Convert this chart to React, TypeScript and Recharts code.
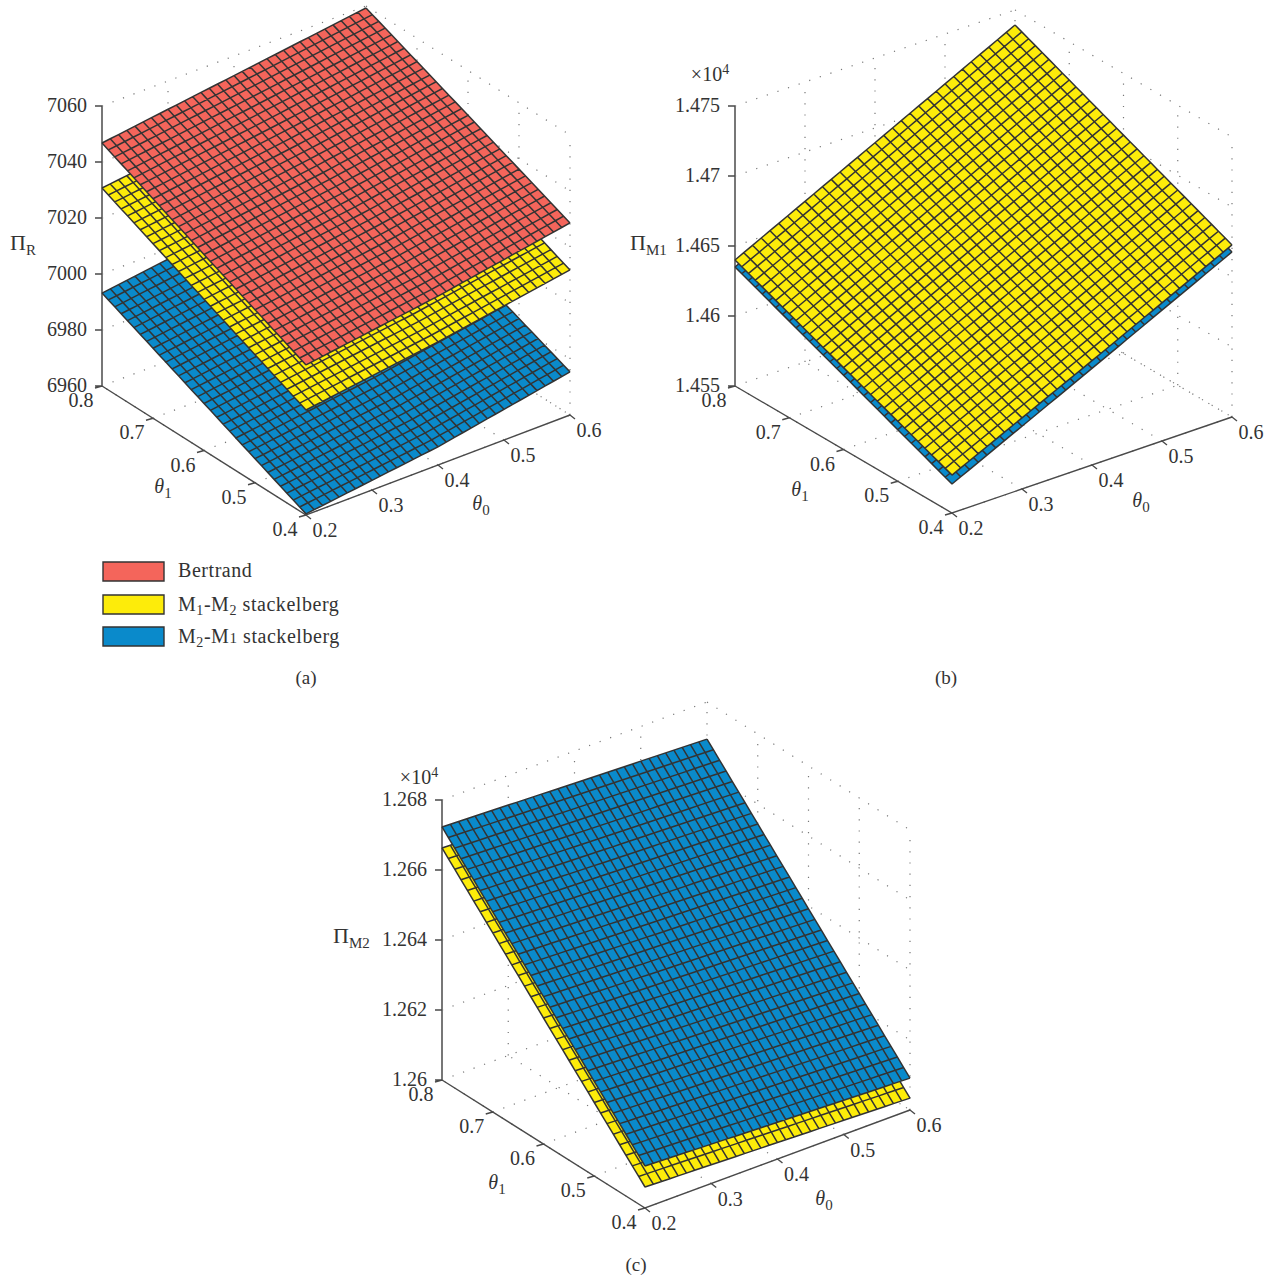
import React from "react";
import { ComposedChart, Area, Line, Scatter, XAxis, YAxis, ReferenceArea } from "recharts";

const W = 1272;
const H = 1277;
const FONT = "'Liberation Serif', serif";

const theta0Ticks = [0.2, 0.3, 0.4, 0.5, 0.6];
const theta1Ticks = [0.4, 0.5, 0.6, 0.7, 0.8];
const zTicksA = [6960, 6980, 7000, 7020, 7040, 7060];
const zTicksB = [1.455, 1.46, 1.465, 1.47, 1.475];
const zTicksC = [1.26, 1.262, 1.264, 1.266, 1.268];

// surface heights: rows are theta1 = .4 .6 .8, columns theta0 = .2 .4 .6
const bertrandR = [
  [7013.6, 7020.3, 7028.6],
  [7030.0, 7036.5, 7044.0],
  [7046.8, 7053.0, 7059.3],
];
const m1m2R = [
  [6997.5, 7004.0, 7011.8],
  [7014.0, 7020.0, 7027.5],
  [7030.7, 7036.5, 7043.0],
];
const m2m1R = [
  [6960.4, 6966.5, 6975.4],
  [6976.8, 6983.0, 6990.5],
  [6993.2, 6999.5, 7005.0],
];
const m1m2M1 = [
  [1.45771, 1.46245, 1.46729],
  [1.46085, 1.4657, 1.4706],
  [1.464, 1.46895, 1.47393],
];
const m2m1M1 = [
  [1.45707, 1.4619, 1.46679],
  [1.4603, 1.46515, 1.47005],
  [1.4635, 1.46845, 1.4734],
];
const m2m1M2 = [
  [1.2612, 1.26105, 1.26091],
  [1.26421, 1.26406, 1.26392],
  [1.26723, 1.26708, 1.26694],
];
const m1m2M2 = [
  [1.2606, 1.26047, 1.26034],
  [1.2636, 1.26347, 1.26335],
  [1.26663, 1.2665, 1.26637],
];

const RED = "#f4655b";
const YELLOW = "#fdec0a";
const BLUE = "#0a8acb";
const MESH = "#333333";

type Pt = { x: number; y: number | null };
type Panel = {
  origin: [number, number];
  u: [number, number];
  v: [number, number];
  zTicks: number[];
  zScale: number;
};

const panelA: Panel = { origin: [306, 515], u: [264, -100], v: [-204, -129], zTicks: zTicksA, zScale: 2.8 };
const panelB: Panel = { origin: [952, 513], u: [280, -96], v: [-217, -127], zTicks: zTicksB, zScale: 14000 };
const panelC: Panel = { origin: [645, 1208], u: [265, -98], v: [-203, -128], zTicks: zTicksC, zScale: 35000 };

const project = (p: Panel, t0: number, t1: number, z: number) => {
  const a = (t0 - 0.2) / 0.4;
  const b = (t1 - 0.4) / 0.4;
  return {
    x: p.origin[0] + a * p.u[0] + b * p.v[0],
    y: p.origin[1] + a * p.u[1] + b * p.v[1] - (z - p.zTicks[0]) * p.zScale,
  };
};

// mesh nodes between the read values: the surface is only read at the 3x3 nodes above
const heightAt = (s: number[][], t0: number, t1: number) => {
  const a = Math.min(1.9999, (t0 - 0.2) / 0.2);
  const b = Math.min(1.9999, (t1 - 0.4) / 0.2);
  const i = Math.floor(b);
  const j = Math.floor(a);
  const fa = a - j;
  const fb = b - i;
  return (
    s[i][j] * (1 - fa) * (1 - fb) +
    s[i][j + 1] * fa * (1 - fb) +
    s[i + 1][j] * (1 - fa) * fb +
    s[i + 1][j + 1] * fa * fb
  );
};

const CELLS = 32;
const nodeT0 = (i: number) => 0.2 + (0.4 * i) / CELLS;
const nodeT1 = (i: number) => 0.4 + (0.4 * i) / CELLS;

const meshLines = (p: Panel, s: number[][]) => {
  const out: Pt[] = [];
  for (let i = 0; i <= CELLS; i++) {
    for (let j = 0; j <= CELLS; j++) out.push(project(p, nodeT0(i), nodeT1(j), heightAt(s, nodeT0(i), nodeT1(j))));
    out.push({ x: out[out.length - 1].x, y: null });
    for (let j = 0; j <= CELLS; j++) out.push(project(p, nodeT0(j), nodeT1(i), heightAt(s, nodeT0(j), nodeT1(i))));
    out.push({ x: out[out.length - 1].x, y: null });
  }
  return out;
};

const chainAt = (chain: { x: number; y: number }[], x: number) => {
  for (let i = 1; i < chain.length; i++) {
    if (x <= chain[i].x) {
      const f = (x - chain[i - 1].x) / (chain[i].x - chain[i - 1].x || 1);
      return chain[i - 1].y + f * (chain[i].y - chain[i - 1].y);
    }
  }
  return chain[chain.length - 1].y;
};

// filled outline of a surface as a y-range per x
const fillBand = (p: Panel, s: number[][]) => {
  const at = (t0: number, t1: number) => project(p, t0, t1, heightAt(s, t0, t1));
  const upper: { x: number; y: number }[] = [];
  const lower: { x: number; y: number }[] = [];
  for (let i = 0; i <= CELLS; i++) {
    upper.push(at(nodeT0(i), 0.8));
    lower.push(at(0.2, nodeT1(CELLS - i)));
  }
  for (let i = 1; i <= CELLS; i++) {
    upper.push(at(0.6, nodeT1(CELLS - i)));
    lower.push(at(nodeT0(i), 0.4));
  }
  const xs = Array.from(new Set([...upper, ...lower].map((d) => d.x))).sort((a, b) => a - b);
  return xs.map((x) => ({ x, band: [chainAt(lower, x), chainAt(upper, x)] }));
};

const dottedGrid = (p: Panel) => {
  const out: Pt[] = [];
  const zLo = p.zTicks[0];
  const zHi = p.zTicks[p.zTicks.length - 1];
  const seg = (a: { x: number; y: number }, b: { x: number; y: number }) => {
    out.push(a, b, { x: b.x, y: null });
  };
  theta0Ticks.forEach((t) => {
    seg(project(p, t, 0.4, zLo), project(p, t, 0.8, zLo));
    seg(project(p, t, 0.8, zLo), project(p, t, 0.8, zHi));
  });
  theta1Ticks.forEach((t) => {
    seg(project(p, 0.2, t, zLo), project(p, 0.6, t, zLo));
    seg(project(p, 0.6, t, zLo), project(p, 0.6, t, zHi));
  });
  p.zTicks.forEach((z) => {
    seg(project(p, 0.2, 0.8, z), project(p, 0.6, 0.8, z));
    seg(project(p, 0.6, 0.8, z), project(p, 0.6, 0.4, z));
  });
  return out;
};

const floorAxes = (p: Panel) => {
  const z = p.zTicks[0];
  const out: Pt[] = [project(p, 0.2, 0.8, z), project(p, 0.2, 0.4, z), project(p, 0.6, 0.4, z)];
  out.push({ x: out[2].x, y: null });
  const tick = (a: { x: number; y: number }, dx: number, dy: number) => {
    out.push(a, { x: a.x + dx, y: a.y + dy }, { x: a.x, y: null });
  };
  theta1Ticks.forEach((t) => tick(project(p, 0.2, t, z), -7, 2));
  theta0Ticks.forEach((t) => tick(project(p, t, 0.4, z), 5, 4));
  p.zTicks.forEach((zt) => tick(project(p, 0.2, 0.8, zt), -7, 0));
  return out;
};

const zAxisLine = (p: Panel) => [
  project(p, 0.2, 0.8, p.zTicks[0]),
  project(p, 0.2, 0.8, p.zTicks[p.zTicks.length - 1]),
];

type Label = { x: number; y: number; text: string; sub?: string; sup?: string; anchor?: string; italic?: boolean; size?: number };

const tickLabels = (p: Panel) => {
  const out: Label[] = [];
  const z = p.zTicks[0];
  theta1Ticks.forEach((t) => {
    const a = project(p, 0.2, t, z);
    out.push({ x: a.x - 21, y: a.y + 14, text: t.toFixed(1) });
  });
  theta0Ticks.forEach((t) => {
    const a = project(p, t, 0.4, z);
    out.push({ x: a.x + 19, y: a.y + 15, text: t.toFixed(1) });
  });
  p.zTicks.forEach((zt) => {
    const a = project(p, 0.2, 0.8, zt);
    out.push({ x: a.x - 15, y: a.y - 1, text: String(zt), anchor: "end" });
  });
  return out;
};

const titleLabels: Label[] = [
  { x: 10, y: 242, text: "Π", sub: "R", anchor: "start", size: 22 },
  { x: 163, y: 486, text: "θ", sub: "1", italic: true },
  { x: 481, y: 503, text: "θ", sub: "0", italic: true },
  { x: 306, y: 677, text: "(a)", size: 19 },
  { x: 630, y: 242, text: "Π", sub: "M1", anchor: "start", size: 22 },
  { x: 710, y: 74, text: "×10", sup: "4" },
  { x: 800, y: 489, text: "θ", sub: "1", italic: true },
  { x: 1141, y: 500, text: "θ", sub: "0", italic: true },
  { x: 946, y: 677, text: "(b)", size: 19 },
  { x: 333, y: 935, text: "Π", sub: "M2", anchor: "start", size: 22 },
  { x: 419, y: 777, text: "×10", sup: "4" },
  { x: 497, y: 1182, text: "θ", sub: "1", italic: true },
  { x: 824, y: 1198, text: "θ", sub: "0", italic: true },
  { x: 636, y: 1264, text: "(c)", size: 19 },
];

const legendRows = [
  { name: "Bertrand", color: RED, y1: 562, y2: 581 },
  { name: "M1-M2 stackelberg", color: YELLOW, y1: 595, y2: 614 },
  { name: "M2-M1 stackelberg", color: BLUE, y1: 627, y2: 646 },
];

const legendLabels = [
  { x: 178, y: 570, name: "Bertrand" },
  { x: 178, y: 604, name: "M1-M2" },
  { x: 178, y: 636, name: "M2-M1" },
];

const LabelShape = (props: any) => {
  const d: Label = props.payload;
  return (
    <text
      x={props.cx}
      y={props.cy}
      dy="0.35em"
      textAnchor={d.anchor ?? "middle"}
      fontFamily={FONT}
      fontSize={d.size ?? 20}
      fontStyle={d.italic ? "italic" : "normal"}
      fill="#333"
    >
      {d.text}
      {d.sub && (
        <tspan dy={5} fontSize={15} fontStyle="normal">
          {d.sub}
        </tspan>
      )}
      {d.sup && (
        <tspan dy={-7} fontSize={14}>
          {d.sup}
        </tspan>
      )}
    </text>
  );
};

const LegendText = (props: any) => {
  const { cx, cy, payload } = props;
  const common = { x: cx, y: cy, dy: "0.35em", fontFamily: FONT, fontSize: 20, fill: "#333", letterSpacing: 0.55 };
  if (payload.name === "Bertrand") return <text {...common}>Bertrand</text>;
  const second = payload.name === "M2-M1";
  return (
    <text {...common}>
      M
      <tspan dy={4} fontSize={14}>
        {second ? "2" : "1"}
      </tspan>
      <tspan dy={-4}>-M</tspan>
      {second ? (
        <tspan fontSize={15}>1</tspan>
      ) : (
        <tspan dy={4} fontSize={14}>
          2
        </tspan>
      )}
      <tspan dy={second ? 0 : -4}> stackelberg</tspan>
    </text>
  );
};

const surfaces = [
  { panel: panelA, values: m2m1R, color: BLUE },
  { panel: panelA, values: m1m2R, color: YELLOW },
  { panel: panelA, values: bertrandR, color: RED },
  { panel: panelB, values: m2m1M1, color: BLUE },
  { panel: panelB, values: m1m2M1, color: YELLOW },
  { panel: panelC, values: m1m2M2, color: YELLOW },
  { panel: panelC, values: m2m1M2, color: BLUE },
];

const panels = [panelA, panelB, panelC];
const allLabels = [...panels.flatMap((p) => tickLabels(p)), ...titleLabels];

export default function App() {
  return (
    <div style={{ position: "absolute", left: 0, top: 0, width: W, height: H, background: "#fff" }}>
      <ComposedChart width={W} height={H} margin={{ top: 0, right: 0, bottom: 0, left: 0 }}>
        <XAxis dataKey="x" type="number" domain={[0, W]} allowDataOverflow hide />
        <YAxis dataKey="y" type="number" domain={[0, H]} reversed allowDataOverflow hide />
        {panels.map((p, i) => (
          <Line
            key={"grid" + i}
            data={dottedGrid(p)}
            dataKey="y"
            stroke="#777"
            strokeWidth={1.2}
            strokeDasharray="1.2 10"
            dot={false}
            isAnimationActive={false}
            zIndex={1}
          />
        ))}
        {panels.map((p, i) => (
          <Line
            key={"zaxis" + i}
            data={zAxisLine(p)}
            dataKey="y"
            stroke="#777"
            strokeWidth={2}
            dot={false}
            isAnimationActive={false}
            zIndex={2}
          />
        ))}
        {panels.map((p, i) => (
          <Line
            key={"axes" + i}
            data={floorAxes(p)}
            dataKey="y"
            stroke="#4a4a4a"
            strokeWidth={1.4}
            dot={false}
            isAnimationActive={false}
            zIndex={2}
          />
        ))}
        {surfaces.flatMap((s, i) => [
          <Area
            key={"fill" + i}
            data={fillBand(s.panel, s.values)}
            dataKey="band"
            fill={s.color}
            fillOpacity={1}
            stroke="none"
            type="linear"
            dot={false}
            isAnimationActive={false}
            zIndex={10 + 2 * i}
          />,
          <Line
            key={"mesh" + i}
            data={meshLines(s.panel, s.values)}
            dataKey="y"
            stroke={MESH}
            strokeWidth={1.5}
            dot={false}
            isAnimationActive={false}
            zIndex={11 + 2 * i}
          />,
        ])}
        {legendRows.map((r) => (
          <ReferenceArea
            key={r.name}
            x1={103}
            x2={164}
            y1={r.y1}
            y2={r.y2}
            fill={r.color}
            fillOpacity={1}
            stroke="#333"
            strokeWidth={1.4}
            zIndex={40}
          />
        ))}
        <Scatter data={allLabels} dataKey="y" shape={LabelShape} isAnimationActive={false} zIndex={50} />
        <Scatter data={legendLabels} dataKey="y" shape={LegendText} isAnimationActive={false} zIndex={50} />
      </ComposedChart>
    </div>
  );
}
